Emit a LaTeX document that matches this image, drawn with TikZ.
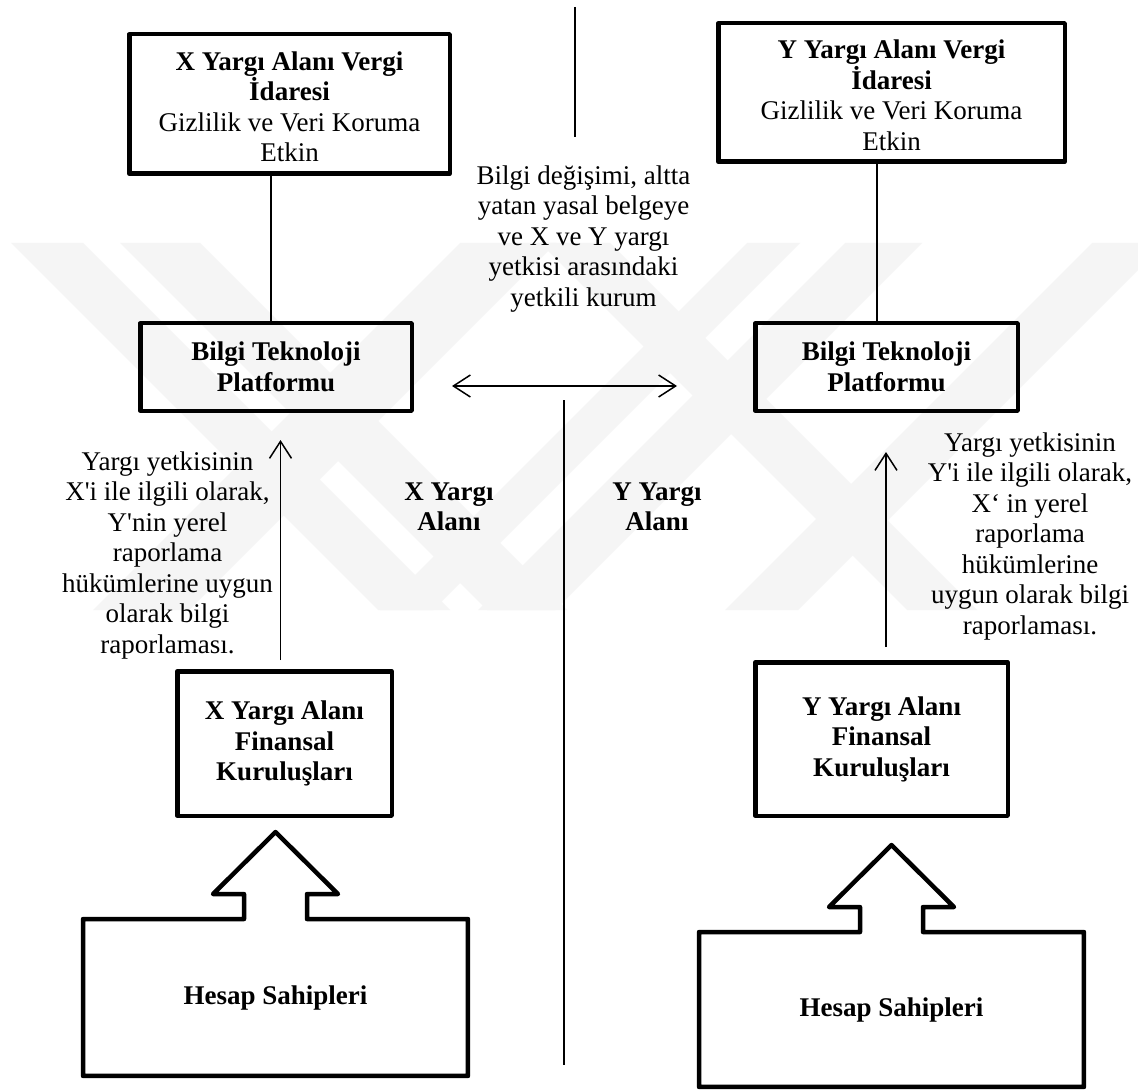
\documentclass[tikz,border=0pt]{standalone}
\usepackage{fontspec}
\setmainfont{Liberation Serif}
\usetikzlibrary{arrows.meta,calc}
\begin{document}
\begin{tikzpicture}[x=1pt,y=-1pt,
  every node/.style={font=\fontsize{27}{30.5}\selectfont, align=center, inner sep=0pt},
  bold/.style={font=\fontsize{27}{30.5}\selectfont\bfseries},
  boxed/.style={draw, line width=4.5pt, line join=round},
  thinline/.style={line width=1.5pt},
  barb/.tip={Straight Barb[length=17pt,width=22pt,line width=1.5pt]},
  arr/.style={thinline, -barb},
  wm/.style={fill=black!4}]
\useasboundingbox (0,0) rectangle (1138,1091);
\fill[white] (0,0) rectangle (1138,1091);
% watermark
\fill[wm] (11,243) -- (83,243) -- (450,610) -- (378,610) -- cycle;
\fill[wm] (120,243) -- (200,243) -- (567,610) -- (487,610) -- cycle;
\fill[wm] (540,243) -- (610,243) -- (977,610) -- (907,610) -- cycle;
\fill[wm] (747,243) -- (800,243) -- (433,610) -- (380,610) -- cycle;
\fill[wm] (845,243) -- (922,243) -- (555,610) -- (478,610) -- cycle;
\fill[wm] (460,243) -- (556,243) -- (189,610) -- (93,610) -- cycle;
\fill[wm] (1092,243) -- (1165,243) -- (798,610) -- (725,610) -- cycle;

% boxes
\node[boxed, minimum width=320.5, minimum height=139.5] (xv) at (289.5,104) {};
\node (xvt) at (289.5,107)
  {\textbf{X Yargı Alanı Vergi}\\\textbf{İdaresi}\\Gizlilik ve Veri Koruma\\Etkin};
\node[boxed, minimum width=346.5, minimum height=138.5] (yv) at (891.5,92.5) {};
\node (yvt) at (891.5,95.5)
  {\textbf{Y Yargı Alanı Vergi}\\\textbf{İdaresi}\\Gizlilik ve Veri Koruma\\Etkin};
\node[boxed, bold, minimum width=271.5, minimum height=87.5] (bx) at (276,367)
  {Bilgi Teknoloji\\Platformu};
\node[boxed, bold, minimum width=262.5, minimum height=87.5] (by) at (886.5,367)
  {Bilgi Teknoloji\\Platformu};
\node[boxed, bold, minimum width=214.5, minimum height=144.5] (fx) at (284.5,743.5)
  {X Yargı Alanı\\Finansal\\Kuruluşları};
\node[boxed, bold, minimum width=252.5, minimum height=153.5] (fy) at (881.5,739)
  {Y Yargı Alanı\\Finansal\\Kuruluşları};
\node[bold, minimum width=384.5, minimum height=156.5] (hx) at (275.5,997.5)
  {Hesap Sahipleri};
\node[bold, minimum width=384.5, minimum height=154.5] (hy) at (891.5,1009.5)
  {Hesap Sahipleri};

% account holder boxes with block arrows
\draw[boxed] (hx.north west) -- ($(hx.north)+(-31.5,0)$) -- ++(0,-25) -- ++(-31,0)
  -- ($(hx.north)+(0,-87)$) -- ($(hx.north)+(62.5,-25)$) -- ++(-31,0)
  -- ($(hx.north)+(31.5,0)$) -- (hx.north east) -- (hx.south east) -- (hx.south west) -- cycle;
\draw[boxed] (hy.north west) -- ($(hy.north)+(-31.5,0)$) -- ++(0,-25) -- ++(-31,0)
  -- ($(hy.north)+(0,-87)$) -- ($(hy.north)+(62.5,-25)$) -- ++(-31,0)
  -- ($(hy.north)+(31.5,0)$) -- (hy.north east) -- (hy.south east) -- (hy.south west) -- cycle;

% connectors
\draw[thinline] ($(bx.north)+(-5,0)$) -- ($(bx.north |- xv.south)+(-5,0)$);
\draw[thinline] ($(by.north)+(-9.5,0)$) -- ($(by.north |- yv.south)+(-9.5,0)$);

\coordinate (ea) at (452,386);
\coordinate (eb) at (677,386);
\draw[thinline, barb-barb] (ea) -- (eb);

\coordinate (ax0) at (280.5,660);
\coordinate (ax1) at (280.5,440);
\draw[arr] (ax0) -- (ax1);
\coordinate (ay0) at (886,647);
\coordinate (ay1) at (886,452);
\draw[arr] (ay0) -- (ay1);

% separators
\coordinate (t0) at (575,7);
\coordinate (t1) at (575,137);
\draw[thinline] (t0) -- (t1);
\coordinate (b0) at (564,400);
\coordinate (b1) at (564,1065);
\draw[thinline] (b0) -- (b1);

% texts
\node (mid) at (583.5,239)
  {Bilgi değişimi, altta\\yatan yasal belgeye\\ve X ve Y yargı\\yetkisi arasındaki\\yetkili kurum};
\node[bold] (xa) at (449,507) {X Yargı\\Alanı};
\node[bold] (ya) at (657,507) {Y Yargı\\Alanı};
\node (lt) at (167.5,555.5)
  {Yargı yetkisinin\\X\textquotesingle i ile ilgili olarak,\\Y\textquotesingle nin yerel\\raporlama\\hükümlerine uygun\\olarak bilgi\\raporlaması.};
\node (rt) at (1030,536.5)
  {Yargı yetkisinin\\Y\textquotesingle i ile ilgili olarak,\\X‘ in yerel\\raporlama\\hükümlerine\\uygun olarak bilgi\\raporlaması.};
\end{tikzpicture}
\end{document}
